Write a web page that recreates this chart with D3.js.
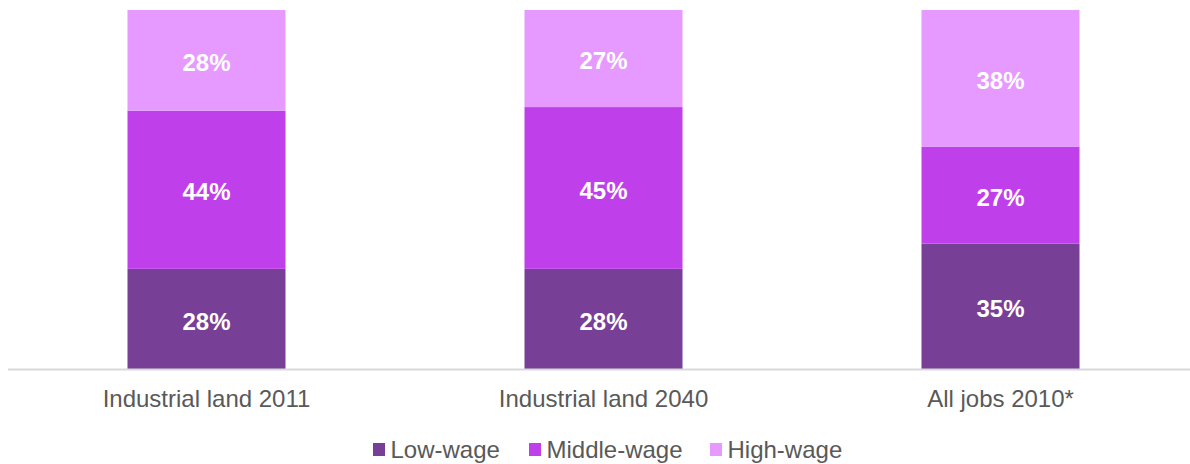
<!DOCTYPE html>
<html>
<head>
<meta charset="utf-8">
<script src="https://cdn.jsdelivr.net/npm/d3@7"></script>
<style>
  html, body { margin: 0; padding: 0; background: #fff; }
  svg { display: block; font-family: "Liberation Sans", Arial, sans-serif; }
</style>
</head>
<body>
<svg id="chart" width="1190" height="464"></svg>
<script>
// Share of jobs by wage level
const categories = ["Industrial land 2011", "Industrial land 2040", "All jobs 2010*"];
const seriesNames = ["Low-wage", "Middle-wage", "High-wage"];
const lowWage = [28, 28, 35];
const middleWage = [44, 45, 27];
const highWage = [28, 27, 38];
const colors = ["#773F96", "#BF40EA", "#E699FF"];

const rows = categories.map((c, i) => ({
  category: c,
  "Low-wage": lowWage[i],
  "Middle-wage": middleWage[i],
  "High-wage": highWage[i]
}));

const svg = d3.select("#chart");
const plotTop = 10, plotBottom = 369.5;
const fontSize = 24;

const x = d3.scaleBand()
  .domain(categories)
  .range([8, 1199])
  .paddingInner(0.602)
  .paddingOuter(0.301);

const y = d3.scaleLinear()
  .domain([0, 100])
  .range([plotBottom, plotTop]);

const color = d3.scaleOrdinal().domain(seriesNames).range(colors);

const stacked = d3.stack().keys(seriesNames)(rows);

const layers = svg.append("g").selectAll("g")
  .data(stacked)
  .join("g")
  .attr("fill", d => color(d.key));

layers.selectAll("rect")
  .data(d => d)
  .join("rect")
  .attr("x", d => x(d.data.category))
  .attr("y", d => y(d[1]))
  .attr("width", x.bandwidth())
  .attr("height", d => y(d[0]) - y(d[1]));

// Value labels centred in each segment
layers.selectAll("text")
  .data(d => d)
  .join("text")
  .attr("x", d => x(d.data.category) + x.bandwidth() / 2)
  .attr("y", d => (y(d[0]) + y(d[1])) / 2)
  .attr("dy", "0.44em")
  .attr("text-anchor", "middle")
  .attr("fill", "#fff")
  .attr("font-weight", "bold")
  .attr("font-size", fontSize)
  .text(d => (d[1] - d[0]) + "%");

// Category axis
const axis = svg.append("g")
  .attr("transform", `translate(0,${plotBottom})`)
  .call(d3.axisBottom(x).tickSize(0).tickPadding(20.5));
axis.select(".domain").attr("stroke", "#d9d9d9").attr("stroke-width", 2)
  .attr("d", "M8,0H1190");
axis.selectAll("text")
  .attr("font-size", fontSize)
  .attr("fill", "#595959")
  .attr("font-family", "Liberation Sans, Arial, sans-serif");

// Legend
const legendItems = [
  { name: seriesNames[0], x: 373 },
  { name: seriesNames[1], x: 529 },
  { name: seriesNames[2], x: 710 }
];
const legend = svg.append("g").selectAll("g")
  .data(legendItems)
  .join("g")
  .attr("transform", d => `translate(${d.x},443)`);
legend.append("rect")
  .attr("width", 12).attr("height", 13)
  .attr("fill", d => color(d.name));
legend.append("text")
  .attr("x", 17.5).attr("y", 15)
  .attr("font-size", fontSize)
  .attr("fill", "#595959")
  .text(d => d.name);
</script>
</body>
</html>
